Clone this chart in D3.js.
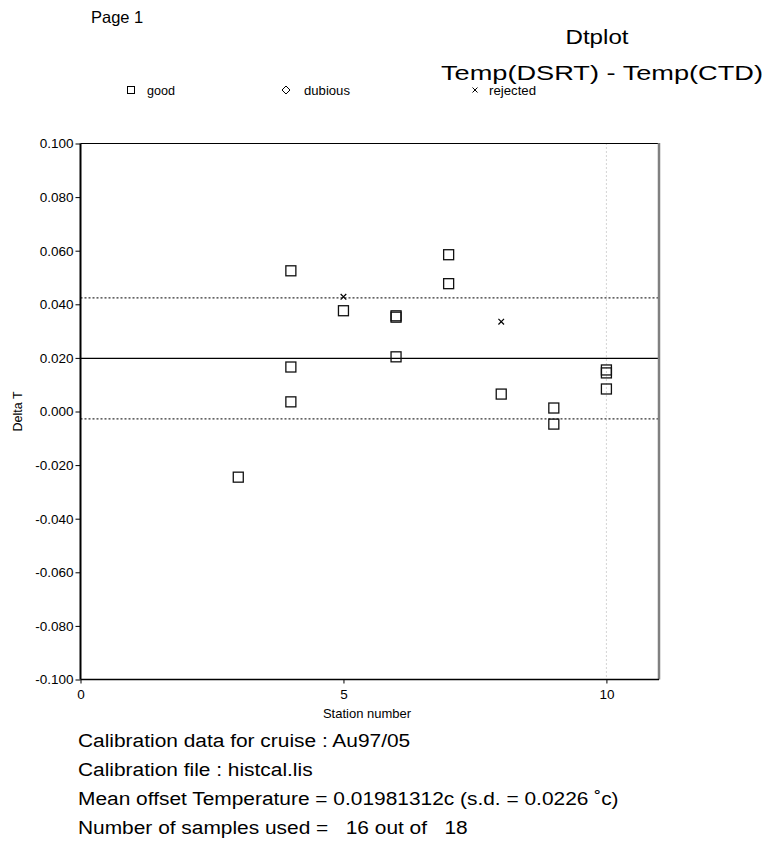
<!DOCTYPE html>
<html>
<head>
<meta charset="utf-8">
<script src="https://cdn.jsdelivr.net/npm/d3@7"></script>
<style>
  html, body { margin: 0; padding: 0; background: #fff; }
  svg { display: block; font-family: "Liberation Sans", Arial, sans-serif; }
  text { white-space: pre; }
</style>
</head>
<body>
<svg id="chart" width="767" height="847"></svg>
<script>
// Calibration residuals: Temp(DSRT) - Temp(CTD) per station
const goodStations = [3, 4, 4, 4, 5, 6, 6, 6, 7, 7, 8, 9, 9, 10, 10, 10];
const goodDeltas   = [-0.0245, 0.0525, 0.0166, 0.0036, 0.0376, 0.0357, 0.0352, 0.0204,
                      0.0585, 0.0477, 0.0065, 0.0013, -0.0047, 0.0155, 0.0144, 0.0084];
const rejectedStations = [5, 8];
const rejectedDeltas   = [0.0428, 0.0335];

const meanOffset = 0.01981312;
const stdDev = 0.0226;
const markerStation = 10;

const yTickValues = [-0.1, -0.08, -0.06, -0.04, -0.02, 0, 0.02, 0.04, 0.06, 0.08, 0.1];
const xTickValues = [0, 5, 10];

const legendLabels = ["good", "dubious", "rejected"];
const infoLines = [
  "Calibration data for cruise : Au97/05",
  "Calibration file : histcal.lis",
  "Mean offset Temperature = 0.01981312c (s.d. = 0.0226 \u02dac)",
  "Number of samples used =   16 out of   18"
];

const svg = d3.select("#chart");
const plot = { left: 80.5, right: 659, top: 143.5, bottom: 679.5 };

const x = d3.scaleLinear().domain([0, 11]).range([plot.left, plot.right]);
const y = d3.scaleLinear().domain([-0.1, 0.1]).range([plot.bottom, plot.top]);

// Header text
svg.append("text").attr("x", 91).attr("y", 23)
  .attr("font-size", 16.5).text("Page 1");
svg.append("text").attr("x", 597).attr("y", 44).attr("text-anchor", "middle")
  .attr("font-size", 21).attr("textLength", 63).attr("lengthAdjust", "spacingAndGlyphs")
  .text("Dtplot");
svg.append("text").attr("x", 441).attr("y", 80)
  .attr("font-size", 21).attr("textLength", 322).attr("lengthAdjust", "spacingAndGlyphs")
  .text("Temp(DSRT) - Temp(CTD)");

// Legend
const legendX = [131, 286, 475];
const legend = svg.append("g").attr("font-size", 12);
legend.append("rect").attr("x", legendX[0] - 3.5).attr("y", 86.5).attr("width", 7).attr("height", 7)
  .attr("fill", "none").attr("stroke", "#000").attr("stroke-width", 1);
legend.append("path")
  .attr("d", `M${legendX[1]},86 L${legendX[1] + 4},90 L${legendX[1]},94 L${legendX[1] - 4},90 Z`)
  .attr("fill", "none").attr("stroke", "#000").attr("stroke-width", 1);
legend.append("path")
  .attr("d", `M${legendX[2] - 2.5},87.5 L${legendX[2] + 2.5},92.5 M${legendX[2] + 2.5},87.5 L${legendX[2] - 2.5},92.5`)
  .attr("stroke", "#000").attr("stroke-width", 1);
const legendTextX = [147, 304, 489];
const legendTextW = [28, 46, 47];
legendLabels.forEach((lab, i) => {
  legend.append("text").attr("x", legendTextX[i]).attr("y", 94.5)
    .attr("textLength", legendTextW[i]).attr("lengthAdjust", "spacingAndGlyphs").text(lab);
});

// Vertical dotted marker at the last station
svg.append("line")
  .attr("x1", x(markerStation)).attr("x2", x(markerStation))
  .attr("y1", plot.top).attr("y2", plot.bottom)
  .attr("stroke", "#aaa").attr("stroke-width", 1).attr("stroke-dasharray", "1,3");

// Mean and +/- one standard deviation lines
svg.append("line").attr("x1", plot.left).attr("x2", plot.right)
  .attr("y1", y(meanOffset)).attr("y2", y(meanOffset))
  .attr("stroke", "#000").attr("stroke-width", 1.2);
[meanOffset + stdDev, meanOffset - stdDev].forEach(v => {
  svg.append("line").attr("x1", plot.left).attr("x2", plot.right)
    .attr("y1", y(v)).attr("y2", y(v))
    .attr("stroke", "#333").attr("stroke-width", 1.2).attr("stroke-dasharray", "2,2");
});

// Frame: top and right edges
svg.append("line").attr("x1", plot.left).attr("x2", plot.right)
  .attr("y1", plot.top).attr("y2", plot.top).attr("stroke", "#000").attr("stroke-width", 1);
svg.append("line").attr("x1", plot.right).attr("x2", plot.right)
  .attr("y1", plot.top - 0.5).attr("y2", plot.bottom)
  .attr("stroke", "#808080").attr("stroke-width", 2.5);

// Axes
const fmt = d => (Math.abs(d) < 1e-9 ? 0 : d).toFixed(3);
const yAxis = svg.append("g").attr("transform", `translate(${plot.left},0)`)
  .call(d3.axisLeft(y).tickValues(yTickValues).tickFormat(fmt).tickSize(5).tickPadding(2));
yAxis.select(".domain").attr("stroke-width", 2).attr("d", `M0,${plot.top}V${plot.bottom}`);
yAxis.selectAll("text").attr("font-size", 13.5).attr("fill", "#000")
  .attr("font-family", "Liberation Sans, Arial, sans-serif");

const xAxis = svg.append("g").attr("transform", `translate(0,${plot.bottom})`)
  .call(d3.axisBottom(x).tickValues(xTickValues).tickFormat(d3.format("d")).tickSize(4).tickPadding(6));
xAxis.select(".domain").attr("stroke-width", 1.5).attr("d", `M${plot.left},0H${plot.right}`);
xAxis.selectAll("text").attr("font-size", 13.5).attr("fill", "#000")
  .attr("font-family", "Liberation Sans, Arial, sans-serif");

// Axis titles
svg.append("text").attr("x", 367).attr("y", 718).attr("text-anchor", "middle")
  .attr("font-size", 13).text("Station number");
svg.append("text").attr("transform", `translate(22,${y(0)}) rotate(-90)`)
  .attr("text-anchor", "middle").attr("font-size", 12.5).text("Delta T");

// Good samples: open squares
const sq = 10;
svg.append("g").selectAll("rect")
  .data(goodStations.map((s, i) => ({ s, v: goodDeltas[i] })))
  .join("rect")
  .attr("x", d => x(d.s) - sq / 2).attr("y", d => y(d.v) - sq / 2)
  .attr("width", sq).attr("height", sq)
  .attr("fill", "none").attr("stroke", "#111").attr("stroke-width", 1.3);

// Rejected samples: crosses
svg.append("g").selectAll("path")
  .data(rejectedStations.map((s, i) => ({ s, v: rejectedDeltas[i] })))
  .join("path")
  .attr("d", d => {
    const cx = x(d.s), cy = y(d.v), r = 2.8;
    return `M${cx - r},${cy - r}L${cx + r},${cy + r}M${cx + r},${cy - r}L${cx - r},${cy + r}`;
  })
  .attr("stroke", "#000").attr("stroke-width", 1.2);

// Summary text, slightly widened
const infoY = [747, 776, 805, 834];
const info = svg.append("g").attr("transform", "translate(78,0) scale(1.1,1)");
infoLines.forEach((t, i) => {
  info.append("text").attr("x", 0).attr("y", infoY[i]).attr("font-size", 19).text(t);
});
</script>
</body>
</html>
